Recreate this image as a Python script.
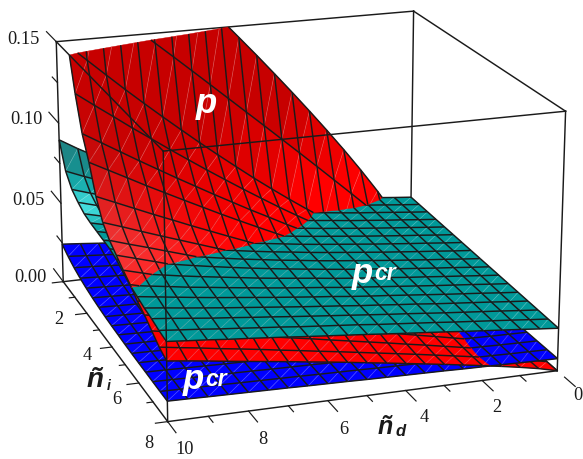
import numpy as np, matplotlib
matplotlib.use('Agg')
import matplotlib.pyplot as plt, seaborn as sns
from mpl_toolkits.mplot3d.art3d import Poly3DCollection, Line3DCollection

# Axis grid
nd_values = [0, .5, 1, 1.5, 2, 2.5, 3, 3.5, 4, 4.5, 5, 5.5, 6, 6.5, 7, 7.5, 8, 8.5, 9, 9.5, 10]
ni_values = [0, .5, 1, 1.5, 2, 2.5, 3, 3.5, 4, 4.5, 5, 5.5, 6, 6.5, 7, 7.5, 8]
z_ticks = [0, .025, .05, .075, .10, .125, .15]

# Surfaces in units of 1e-4, one row per ni value, one column per nd value
p_surface = [
[0,202,364,514,657,794,927,1057,1184,1309,1431,1552,1671,1789,1905,2020,2134,2247,2359,2470,2580],
[0,110,214,316,416,515,614,712,809,906,1002,1098,1194,1290,1385,1479,1574,1668,1762,1856,1950],
[0,32,78,132,191,256,324,396,471,549,629,713,798,885,975,1066,1159,1254,1352,1451,1550],
[0,31,73,121,174,230,289,350,413,478,546,615,686,758,832,907,984,1060,1140,1219,1300],
[0,28,66,109,154,203,253,306,360,415,473,530,590,650,712,774,838,902,968,1034,1100],
[0,25,58,96,136,179,223,270,317,366,417,468,520,573,628,683,739,795,854,912,970],
[0,22,51,83,117,154,191,230,270,310,352,395,439,483,528,573,620,666,714,762,810],
[0,24,53,84,116,148,182,216,251,286,322,358,395,432,469,507,545,583,622,662,700],
[0,25,53,82,113,143,174,206,238,270,303,335,369,402,435,469,503,537,572,605,640],
[0,24,50,77,106,134,164,193,223,253,284,314,346,377,408,440,472,503,536,568,600],
[0,22,47,72,99,125,153,180,208,236,265,293,323,352,381,410,440,470,500,530,560],
[0,22,46,70,95,121,146,172,199,225,252,278,306,332,360,387,415,442,470,497,525],
[0,24,48,72,96,120,144,168,192,216,240,264,288,312,336,360,384,408,432,456,480],
[0,24,47,70,93,116,138,161,183,206,228,250,273,295,317,339,361,383,406,428,450],
[0,24,46,68,89,110,131,151,172,192,212,232,253,272,292,312,332,351,371,391,410],
[0,25,47,67,87,106,125,144,162,180,198,216,233,251,268,286,303,319,337,353,370],
[0,27,49,69,88,106,124,141,158,175,191,208,224,239,255,270,285,300,316,331,345],
]
pcr_upper = [
[300,310,321,332,344,357,373,389,407,428,452,478,508,541,578,619,665,715,771,831,897],
[297,307,318,329,340,352,366,379,395,411,430,450,472,497,524,554,585,620,659,700,745],
[294,304,315,326,336,348,361,374,387,402,419,436,455,475,498,522,548,576,607,640,675],
[291,301,312,322,333,344,357,369,382,396,412,428,445,464,484,506,529,553,581,609,640],
[288,298,309,319,330,341,353,365,378,391,406,421,437,455,474,493,514,537,562,588,615],
[285,295,306,316,327,338,350,362,374,387,402,417,433,450,468,488,508,530,554,579,605],
[282,292,303,313,324,335,347,359,371,384,399,414,429,446,465,484,504,525,549,574,600],
[279,289,300,310,321,332,344,356,368,381,396,410,426,443,461,480,500,521,545,569,595],
[276,286,297,307,318,329,341,353,365,378,393,407,423,439,457,476,496,517,540,564,590],
[273,283,294,304,315,326,338,349,361,374,388,402,417,433,450,468,487,507,529,551,575],
[270,280,291,301,312,322,334,345,356,368,382,395,408,422,438,454,470,487,506,525,545],
[267,277,288,298,308,319,330,341,352,363,376,388,400,413,427,441,456,470,487,503,520],
[264,274,285,295,305,316,327,338,348,359,372,383,395,407,420,433,446,460,475,490,505],
[261,271,282,292,302,312,324,334,345,355,367,378,389,401,413,425,437,450,463,477,490],
[258,268,279,289,299,309,320,331,341,352,363,374,385,396,408,419,431,442,455,468,480],
[255,265,276,286,296,306,317,327,337,347,359,369,379,389,401,411,422,432,444,454,465],
[252,262,273,283,293,303,314,324,334,344,355,365,375,385,396,406,416,425,436,445,455],
]
pcr_lower = [
[50,60,69,79,88,98,107,117,126,136,145,155,164,174,183,193,202,212,221,231,240],
[55,63,71,79,86,94,102,109,117,125,133,140,148,156,163,171,179,187,194,202,210],
[60,66,72,79,85,91,98,104,110,117,123,130,136,142,149,155,161,168,174,181,187],
[63,68,73,79,84,89,95,100,105,111,116,121,127,132,138,143,148,154,159,164,170],
[65,70,74,79,83,88,92,97,102,106,111,115,120,124,129,134,138,143,147,152,157],
[67,71,75,79,83,87,91,95,99,103,107,111,115,119,123,127,131,135,139,143,147],
[68,72,75,79,82,86,89,93,96,100,104,107,111,114,118,121,125,128,132,135,139],
[69,72,76,79,82,85,88,92,95,98,101,104,108,111,114,117,120,124,127,130,133],
[70,73,76,79,82,85,88,91,94,96,99,102,105,108,111,114,117,120,123,126,129],
[70,73,76,79,81,84,87,90,93,95,98,101,104,106,109,112,115,117,120,123,126],
[71,73,76,79,81,84,87,89,92,94,97,100,102,105,108,110,113,115,118,121,123],
[71,74,76,79,81,84,86,89,91,94,96,99,101,104,106,109,111,114,116,119,121],
[71,74,76,79,81,84,86,88,91,93,96,98,101,103,105,108,110,113,115,118,120],
[72,74,76,79,81,83,86,88,91,93,95,98,100,102,105,107,109,112,114,117,119],
[72,74,76,79,81,83,86,88,90,93,95,97,100,102,104,107,109,111,113,116,118],
[72,74,76,79,81,83,86,88,90,92,95,97,99,102,104,106,108,111,113,115,117],
[72,74,76,79,81,83,86,88,90,92,94,97,99,101,104,106,108,110,112,115,117],
]
z_labels = ['0.15', '0.10', '0.05', '0.00']
ni_labels = ['2', '4', '6', '8']
nd_labels = ['10', '8', '6', '4', '2', '0']

sns.set_theme(style='white')
W, H = 583, 459
nd = np.array(nd_values); ni = np.array(ni_values)
X, Y = np.meshgrid(nd, ni)
R = np.array(p_surface) * 1e-4
T = np.array(pcr_upper) * 1e-4
B = np.array(pcr_lower) * 1e-4
ZTOP = .15
ny, nx = R.shape

fig = plt.figure(figsize=(W/100, H/100), dpi=100)
s, cx, cy = 3247.43, 299.57, 257.53
side = s*.185; l = cx-s*.095; b = cy-s*.095
ax = fig.add_axes([l/W, b/H, side/W, side/H], projection='3d', computed_zorder=False)
ax.view_init(18.387, 71.289, -.006)
ax.set_proj_type('persp', focal_length=.8385)
ax.set_box_aspect((1, 1.0144, .6679))
ax.set_axis_off()

def clip(pts, conds):
    pts = list(pts)
    for k, sg in conds:
        out = []
        n = len(pts)
        closed = n > 2
        for i in range(n if closed else 1):
            a = pts[i]; c = pts[(i+1) % n]
            da = sg*a[k]; dc = sg*c[k]
            if da >= 0: out.append(a)
            if da*dc < 0: out.append(a+(c-a)*da/(da-dc))
        if not closed and sg*pts[-1][k] >= 0: out.append(pts[-1])
        pts = out
        if len(pts) < 2: return []
    return pts

def build(Z, conds, color, zo):
    V = np.stack([X, Y, Z, R-B, R-T, ZTOP-R], -1)
    polys = []; cols = []; segs = []; seams = []
    for j in range(ny-1):
        for i in range(nx-1):
            for tri in ((V[j,i], V[j,i+1], V[j+1,i+1]), (V[j,i], V[j+1,i+1], V[j+1,i])):
                p = clip(tri, conds)
                if len(p) >= 3:
                    p = np.array(p); polys.append(p[:,:3]); cols.append(color(*p[:,:3].mean(0)))
            q = clip((V[j,i], V[j+1,i+1]), conds)
            if len(q) == 2: seams.append(np.array(q)[:,:3])
    for j in range(ny):
        for i in range(nx):
            for nb in ([(j,i+1)] if i < nx-1 else [])+([(j+1,i)] if j < ny-1 else []):
                q = clip((V[j,i], V[nb]), conds)
                if len(q) == 2: segs.append(np.array(q)[:,:3])
    if polys:
        ax.add_collection3d(Poly3DCollection(polys, facecolors=cols, edgecolors=cols, linewidths=.3, zorder=zo), autolim=False)
        ax.add_collection3d(Line3DCollection(seams, colors=[(1,1,1,.28)], linewidths=.5, zorder=zo+.1), autolim=False)
        ax.add_collection3d(Line3DCollection(segs, colors='k', linewidths=1.05, zorder=zo+.2), autolim=False)

def cred(x, y, z):
    t = np.clip((z-.05)/.05, 0, 1)
    r = 1-.22*t
    lit = .22*np.exp(-((y-4.2)/1.5)**2)*np.clip((x-6)/4, 0, 1)
    return (r, lit, lit)
def cteal(x, y, z):
    k = (x/10)**3
    bump = k*np.exp(-((y-1.6)/.8)**2)
    dark = k*np.exp(-(y/.5)**2)
    return (.28*bump+.12*dark, .6+.28*bump-.1*dark, .6+.28*bump-.1*dark)
cblue = lambda x, y, z: (0, 0, 1)

build(R, [(3,-1)], cred, 2)
build(B, [], cblue, 3)
build(R, [(3,1),(4,-1)], cred, 4)
build(T, [], cteal, 5)
build(R, [(4,1),(5,1)], cred, 6)

def box(pa, pb, zo, lw=1.05):
    ax.plot(*zip(pa, pb), color='k', lw=lw, zorder=zo, solid_capstyle='projecting')
zm = ZTOP
for a, c in [((10,0,0),(0,0,0)),((0,0,0),(0,8,0)),((0,0,0),(0,0,zm)),((10,0,0),(10,0,zm)),((10,0,zm),(0,0,zm)),((0,0,zm),(0,8,zm))]:
    box(a, c, 1)
for a, c in [((10,0,zm),(10,8,zm)),((10,8,zm),(0,8,zm)),((10,8,zm),(10,8,0)),((10,8,0),(10,0,0)),((10,8,0),(0,8,0)),((0,8,0),(0,8,zm))]:
    box(a, c, 9)
for k, t in enumerate(z_ticks):
    box((10,0,t), (10,-(.85 if k%2==0 else .45),t), 9, .85)
for k in range(9):
    box((10,k,0), (10+(.3 if k%2==0 else .15),k,0), 9, .85)
for k in range(1,11):
    box((k,8,0), (k,8+(.55 if k%2==0 else .3),0), 9, .85)
box((0,8.35,0), (0,8.85,0), 9, .85)
ax.set_xlim(0,10,view_margin=0); ax.set_ylim(0,8,view_margin=0); ax.set_zlim(0,zm,view_margin=0)

def T2(px, py, s_, **k):
    fig.text(px/W, 1-py/H, s_, ha='center', va='center', **k)
serif = dict(family='Liberation Serif', fontsize=13.2, color='k')
for (px, py), s_ in zip([(23,40),(26,120),(28,200),(30,277)], z_labels): T2(px, py, s_, **serif)
for (px, py), s_ in zip([(59,319),(87,356),(117,399),(149,443)], ni_labels): T2(px, py, s_, **serif)
for (px, py), s_ in zip([(185,450),(263,439),(344,429),(424,417),(497,407),(578,396)], nd_labels): T2(px, py, s_, **serif)
bi = dict(family='Liberation Sans', weight='bold', style='italic')
T2(206,103,'p',fontsize=25,color='w',**bi)
T2(362,274,'p',fontsize=25,color='w',**bi)
T2(385,274,'cr',fontsize=16.5,color='w',**bi)
T2(193,380,'p',fontsize=25,color='w',**bi)
T2(216,380,'cr',fontsize=16.5,color='w',**bi)
T2(95,380,'ñ',fontsize=20,color='k',**bi)
T2(109,386,'i',fontsize=10,color='k',**bi)
T2(385,427,'ñ',fontsize=18,color='k',**bi)
T2(401,431,'d',fontsize=12,color='k',**bi)
fig.savefig('out.png', dpi=100)
